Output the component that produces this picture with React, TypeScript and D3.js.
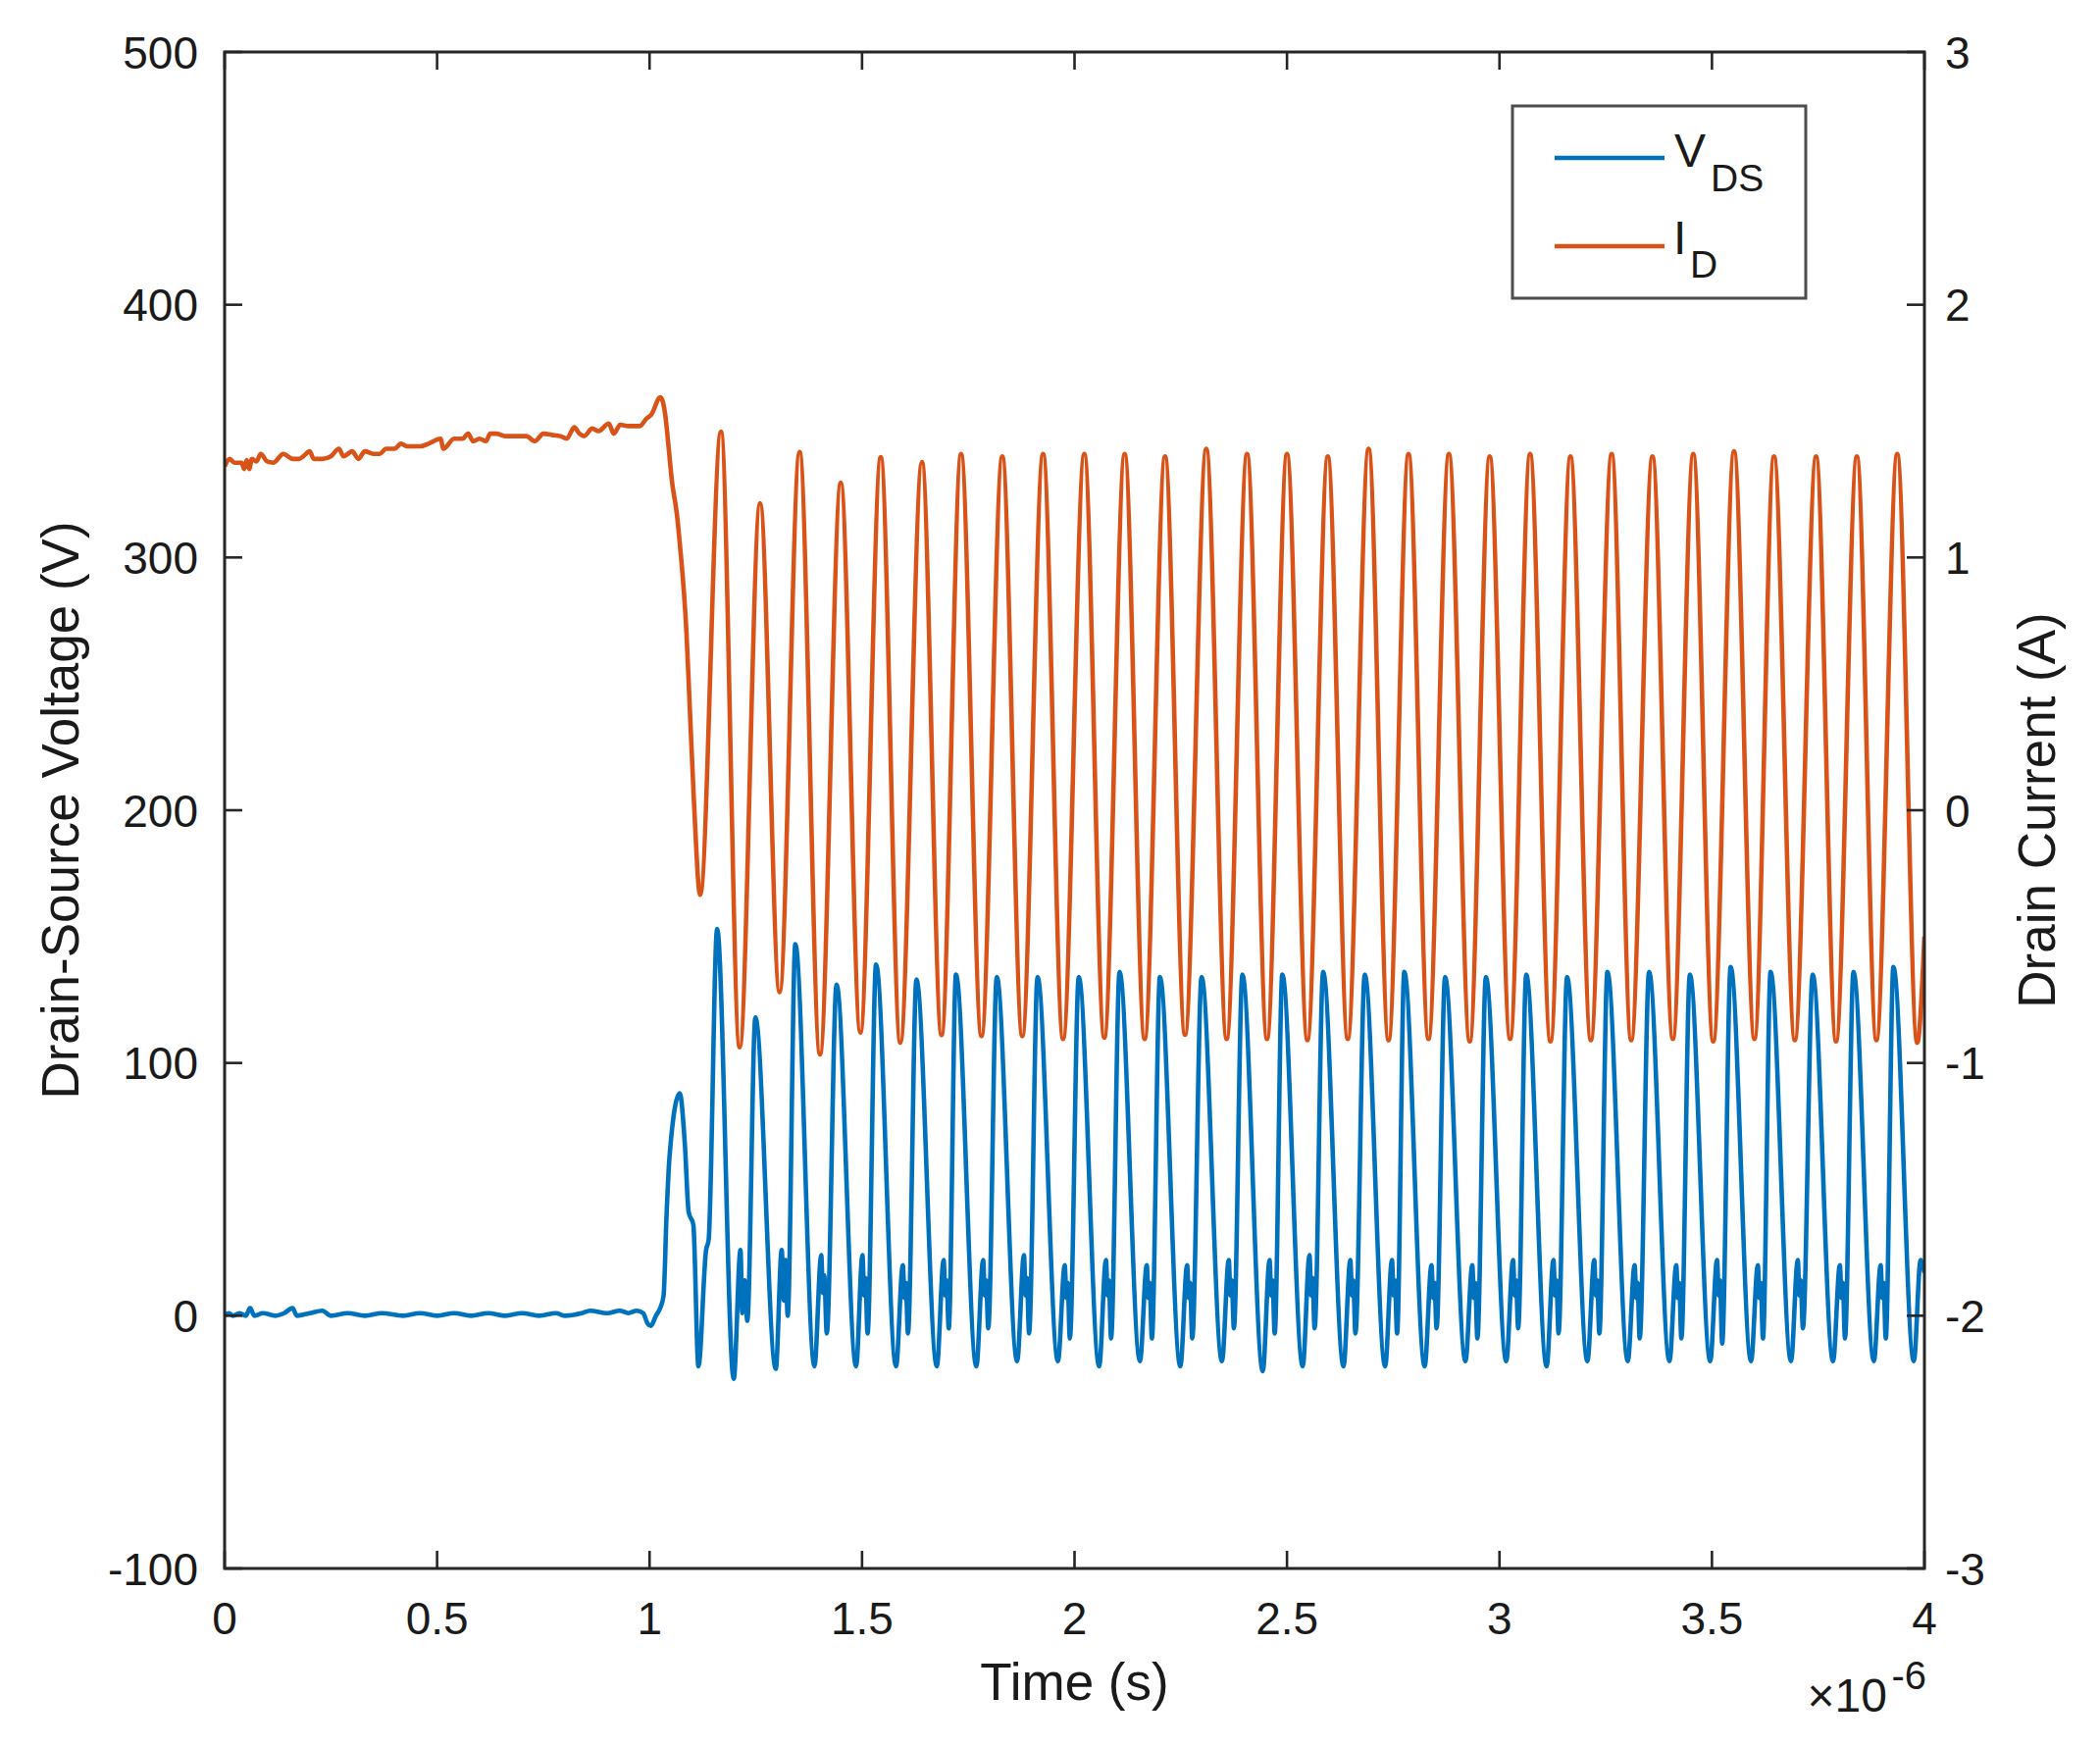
import React from 'react';
import * as d3 from 'd3';

// Chart size and plot box (pixels)
const WIDTH = 2141;
const HEIGHT = 1780;
const margin = { top: 53, right: 179, bottom: 181, left: 229 };

const FONT = '"Liberation Sans", Arial, Helvetica, sans-serif';
const AXIS_COLOR = '#262626';
const VDS_COLOR = '#0072BD';
const ID_COLOR = '#D95319';

// Axis ticks
const timeTicks = [0, 0.5, 1, 1.5, 2, 2.5, 3, 3.5, 4];
const timeTickLabels = ['0', '0.5', '1', '1.5', '2', '2.5', '3', '3.5', '4'];
const voltageTicks = [-100, 0, 100, 200, 300, 400, 500];
const voltageTickLabels = ['-100', '0', '100', '200', '300', '400', '500'];
const currentTicks = [-3, -2, -1, 0, 1, 2, 3];
const currentTickLabels = ['-3', '-2', '-1', '0', '1', '2', '3'];

// V_DS (V) vs time (µs): before turn-off and first transient
const vdsTurnOff: [number, number][] = [
  [0, 0], [0.01, 1], [0.02, 0], [0.035, 1], [0.05, 0], [0.06, 3], [0.07, 0], [0.09, 1],
  [0.12, 0], [0.14, 1], [0.16, 3], [0.17, 0], [0.2, 1], [0.23, 2], [0.25, 0], [0.29, 1],
  [0.33, 0], [0.37, 1], [0.42, 0], [0.46, 1], [0.5, 0], [0.54, 1], [0.58, 0], [0.62, 1],
  [0.66, 0], [0.7, 1], [0.74, 0], [0.78, 1], [0.8, 0], [0.84, 1], [0.86, 2], [0.9, 1],
  [0.93, 2], [0.95, 1], [0.97, 2], [0.985, 1], [0.995, -3], [1.003, -4],
  [1.015, 0], [1.025, 3], [1.033, 8], [1.04, 40], [1.047, 63], [1.071, 88], [1.083, 68],
  [1.092, 41], [1.103, 36], [1.115, -20], [1.133, 26], [1.139, 30],
];

// V_DS ringing: peak, trough, bump, notch, bump, dip for each cycle
const vdsRinging: [number, number][] = [
  [1.159, 153], [1.198, -25], [1.214, 26], [1.218, 1], [1.224, 14], [1.23, -2],
  [1.249, 118], [1.297, -21], [1.311, 26], [1.316, 6], [1.32, 22], [1.325, 0],
  [1.343, 147], [1.388, -20], [1.404, 24], [1.408, 9], [1.411, 16], [1.417, -7],
  [1.44, 131], [1.486, -20], [1.501, 24], [1.505, 8], [1.508, 15], [1.513, -7],
  [1.533, 139], [1.58, -20], [1.596, 20], [1.6, 7], [1.603, 13], [1.608, -7],
  [1.628, 133], [1.676, -20], [1.692, 22], [1.696, 8], [1.699, 14], [1.704, -5],
  [1.721, 135], [1.769, -20], [1.785, 22], [1.789, 8], [1.792, 14], [1.797, -5],
  [1.817, 134], [1.865, -18], [1.881, 24], [1.885, 8], [1.888, 15], [1.893, -7],
  [1.913, 134], [1.961, -18], [1.977, 20], [1.981, 7], [1.984, 13], [1.989, -9],
  [2.01, 134], [2.058, -20], [2.074, 22], [2.078, 8], [2.081, 14], [2.086, -9],
  [2.106, 136], [2.154, -18], [2.17, 20], [2.174, 7], [2.177, 13], [2.182, -9],
  [2.201, 134], [2.249, -20], [2.265, 20], [2.269, 7], [2.272, 13], [2.277, -9],
  [2.299, 134], [2.347, -18], [2.363, 22], [2.367, 8], [2.37, 14], [2.375, -5],
  [2.395, 135], [2.443, -22], [2.459, 22], [2.463, 8], [2.466, 14], [2.471, -7],
  [2.489, 135], [2.537, -20], [2.553, 24], [2.557, 8], [2.56, 15], [2.565, -5],
  [2.585, 136], [2.633, -20], [2.649, 22], [2.653, 8], [2.656, 14], [2.661, -7],
  [2.683, 135], [2.731, -20], [2.747, 22], [2.751, 8], [2.754, 14], [2.759, -7],
  [2.776, 136], [2.824, -20], [2.84, 20], [2.844, 7], [2.847, 13], [2.852, -5],
  [2.872, 134], [2.92, -18], [2.936, 20], [2.94, 7], [2.943, 13], [2.948, -9],
  [2.968, 134], [3.016, -18], [3.032, 22], [3.036, 8], [3.039, 14], [3.044, -5],
  [3.063, 135], [3.111, -20], [3.127, 22], [3.131, 8], [3.134, 14], [3.139, -7],
  [3.159, 134], [3.207, -18], [3.223, 22], [3.227, 8], [3.23, 14], [3.235, -7],
  [3.254, 136], [3.302, -18], [3.318, 20], [3.322, 7], [3.325, 13], [3.33, -9],
  [3.352, 136], [3.4, -18], [3.416, 20], [3.42, 7], [3.423, 13], [3.428, -9],
  [3.448, 135], [3.496, -18], [3.512, 22], [3.516, 8], [3.519, 14], [3.524, -11],
  [3.544, 138], [3.592, -18], [3.608, 20], [3.612, 7], [3.615, 13], [3.62, -9],
  [3.638, 136], [3.686, -18], [3.702, 22], [3.706, 8], [3.709, 14], [3.714, -5],
  [3.737, 135], [3.785, -18], [3.801, 20], [3.805, 7], [3.808, 13], [3.813, -9],
  [3.833, 136], [3.881, -18], [3.897, 20], [3.901, 7], [3.904, 13], [3.909, -9],
  [3.927, 138], [3.975, -18], [3.991, 22], [4.0, 17],
];

// I_D (A) vs time (µs): before turn-off and first transient
const idTurnOff: [number, number][] = [
  [0, 1.36], [0.012, 1.39], [0.023, 1.375], [0.04, 1.375], [0.046, 1.35], [0.052, 1.385],
  [0.058, 1.35], [0.064, 1.39], [0.075, 1.38], [0.085, 1.41], [0.1, 1.38], [0.115, 1.375],
  [0.138, 1.41], [0.16, 1.39], [0.175, 1.39], [0.185, 1.4], [0.2, 1.42], [0.21, 1.39],
  [0.23, 1.39], [0.25, 1.4], [0.269, 1.43], [0.28, 1.4], [0.29, 1.41], [0.3, 1.42],
  [0.315, 1.39], [0.33, 1.42], [0.35, 1.41], [0.365, 1.41], [0.38, 1.43], [0.4, 1.43],
  [0.415, 1.45], [0.43, 1.44], [0.46, 1.44], [0.48, 1.45], [0.508, 1.47], [0.515, 1.43],
  [0.54, 1.47], [0.56, 1.47], [0.573, 1.49], [0.585, 1.46], [0.6, 1.47], [0.615, 1.46],
  [0.625, 1.49], [0.64, 1.49], [0.66, 1.48], [0.69, 1.48], [0.71, 1.48], [0.73, 1.46],
  [0.75, 1.49], [0.77, 1.485], [0.79, 1.48], [0.805, 1.47], [0.823, 1.515], [0.835, 1.49],
  [0.846, 1.48], [0.865, 1.51], [0.88, 1.5], [0.904, 1.53], [0.916, 1.49], [0.931, 1.525],
  [0.95, 1.52], [0.965, 1.52], [0.977, 1.52], [0.993, 1.55],
  [1.004, 1.565], [1.0255, 1.634], [1.037, 1.563], [1.045, 1.433], [1.0525, 1.304],
  [1.064, 1.175], [1.0717, 1.045], [1.087, 0.696], [1.0925, 0.489], [1.104, 0.05],
  [1.119, -0.335],
];

// I_D ringing: alternating peaks and troughs
const idRinging: [number, number][] = [
  [1.168, 1.498], [1.212, -0.938], [1.26, 1.215], [1.306, -0.72], [1.353, 1.417],
  [1.401, -0.966], [1.45, 1.296], [1.496, -0.88], [1.544, 1.397], [1.59, -0.92],
  [1.641, 1.378], [1.687, -0.89], [1.733, 1.41], [1.781, -0.894], [1.83, 1.4],
  [1.877, -0.894], [1.926, 1.41], [1.973, -0.905], [2.023, 1.41], [2.07, -0.9],
  [2.118, 1.41], [2.165, -0.905], [2.213, 1.4], [2.26, -0.889], [2.31, 1.43],
  [2.358, -0.905], [2.406, 1.41], [2.453, -0.905], [2.5, 1.41], [2.548, -0.91],
  [2.596, 1.4], [2.643, -0.905], [2.692, 1.43], [2.739, -0.91], [2.786, 1.41],
  [2.833, -0.905], [2.881, 1.41], [2.93, -0.915], [2.977, 1.4], [3.025, -0.905],
  [3.072, 1.41], [3.12, -0.915], [3.167, 1.4], [3.215, -0.91], [3.264, 1.41],
  [3.31, -0.91], [3.36, 1.4], [3.408, -0.905], [3.456, 1.41], [3.503, -0.915],
  [3.552, 1.42], [3.6, -0.905], [3.646, 1.4], [3.695, -0.91], [3.745, 1.4],
  [3.792, -0.915], [3.841, 1.4], [3.887, -0.91], [3.936, 1.41], [3.983, -0.92],
  [4.0, -0.5],
];

const TICK_LEN = 18;

export default function App() {
  const x0 = margin.left;
  const x1 = WIDTH - margin.right;
  const y0 = margin.top;
  const y1 = HEIGHT - margin.bottom;

  const xScale = d3.scaleLinear().domain([0, 4]).range([x0, x1]);
  const yLeft = d3.scaleLinear().domain([-100, 500]).range([y1, y0]);
  const yRight = d3.scaleLinear().domain([-3, 3]).range([y1, y0]);

  const vdsLine = d3
    .line<[number, number]>()
    .x(d => xScale(d[0]))
    .y(d => yLeft(d[1]))
    .curve(d3.curveMonotoneX);

  const idLine = d3
    .line<[number, number]>()
    .x(d => xScale(d[0]))
    .y(d => yRight(d[1]))
    .curve(d3.curveMonotoneX);

  const vdsData = [...vdsTurnOff, ...vdsRinging];
  const idData = [...idTurnOff, ...idRinging];

  return (
    <>
      <style>{'body{margin:0;background:#fff}'}</style>
      <svg width={WIDTH} height={HEIGHT} style={{ display: 'block', fontFamily: FONT }}>
        <rect x={0} y={0} width={WIDTH} height={HEIGHT} fill="#fff" />
        <defs>
          <clipPath id="plot-area">
            <rect x={x0} y={y0} width={x1 - x0} height={y1 - y0} />
          </clipPath>
        </defs>

        {/* Data */}
        <g clipPath="url(#plot-area)">
          <path d={vdsLine(vdsData) || ''} fill="none" stroke={VDS_COLOR} strokeWidth={4.6} strokeLinejoin="round" />
          <path d={idLine(idData) || ''} fill="none" stroke={ID_COLOR} strokeWidth={4.6} strokeLinejoin="round" />
        </g>

        {/* Ticks */}
        <g stroke={AXIS_COLOR} strokeWidth={2.6}>
          {timeTicks.map(t => (
            <g key={`xt${t}`}>
              <line x1={xScale(t)} x2={xScale(t)} y1={y1} y2={y1 - TICK_LEN} />
              <line x1={xScale(t)} x2={xScale(t)} y1={y0} y2={y0 + TICK_LEN} />
            </g>
          ))}
          {voltageTicks.map(v => (
            <line key={`yl${v}`} x1={x0} x2={x0 + TICK_LEN} y1={yLeft(v)} y2={yLeft(v)} />
          ))}
          {currentTicks.map(a => (
            <line key={`yr${a}`} x1={x1} x2={x1 - TICK_LEN} y1={yRight(a)} y2={yRight(a)} />
          ))}
        </g>

        {/* Box */}
        <rect x={x0} y={y0} width={x1 - x0} height={y1 - y0} fill="none" stroke={AXIS_COLOR} strokeWidth={3} />

        {/* Tick labels */}
        <g fill="#1a1a1a" fontSize={46}>
          {timeTicks.map((t, i) => (
            <text key={`xl${t}`} x={xScale(t)} y={y1 + 67} textAnchor="middle">
              {timeTickLabels[i]}
            </text>
          ))}
          {voltageTicks.map((v, i) => (
            <text key={`vl${v}`} x={x0 - 27} y={yLeft(v) + 16.5} textAnchor="end">
              {voltageTickLabels[i]}
            </text>
          ))}
          {currentTicks.map((a, i) => (
            <text key={`cl${a}`} x={x1 + 21} y={yRight(a) + 16.5} textAnchor="start">
              {currentTickLabels[i]}
            </text>
          ))}
        </g>

        {/* Exponent */}
        <text x={x1 - 38} y={1745} textAnchor="end" fontSize={48} fill="#1a1a1a">×10</text>
        <text x={x1 + 2} y={1722} textAnchor="end" fontSize={40} fill="#1a1a1a">-6</text>

        {/* Axis labels */}
        <g fill="#1a1a1a" fontSize={53}>
          <text x={(x0 + x1) / 2} y={1733} textAnchor="middle">Time (s)</text>
          <text transform={`translate(80, ${(y0 + y1) / 2}) rotate(-90)`} textAnchor="middle">
            Drain-Source Voltage (V)
          </text>
          <text transform={`translate(2095, ${(y0 + y1) / 2}) rotate(-90)`} textAnchor="middle">
            Drain Current (A)
          </text>
        </g>

        {/* Legend */}
        <g>
          <rect x={1542} y={108} width={299} height={196} fill="#fff" stroke="#4d4d4d" strokeWidth={3} />
          <line x1={1585} x2={1697} y1={161} y2={161} stroke={VDS_COLOR} strokeWidth={4.7} />
          <line x1={1585} x2={1697} y1={251} y2={251} stroke={ID_COLOR} strokeWidth={4.7} />
          <text x={1707} y={170} fontSize={48} fill="#1a1a1a">V</text>
          <text x={1744} y={195} fontSize={39} fill="#1a1a1a">DS</text>
          <text x={1706} y={259} fontSize={48} fill="#1a1a1a">I</text>
          <text x={1723} y={283} fontSize={39} fill="#1a1a1a">D</text>
        </g>
      </svg>
    </>
  );
}
